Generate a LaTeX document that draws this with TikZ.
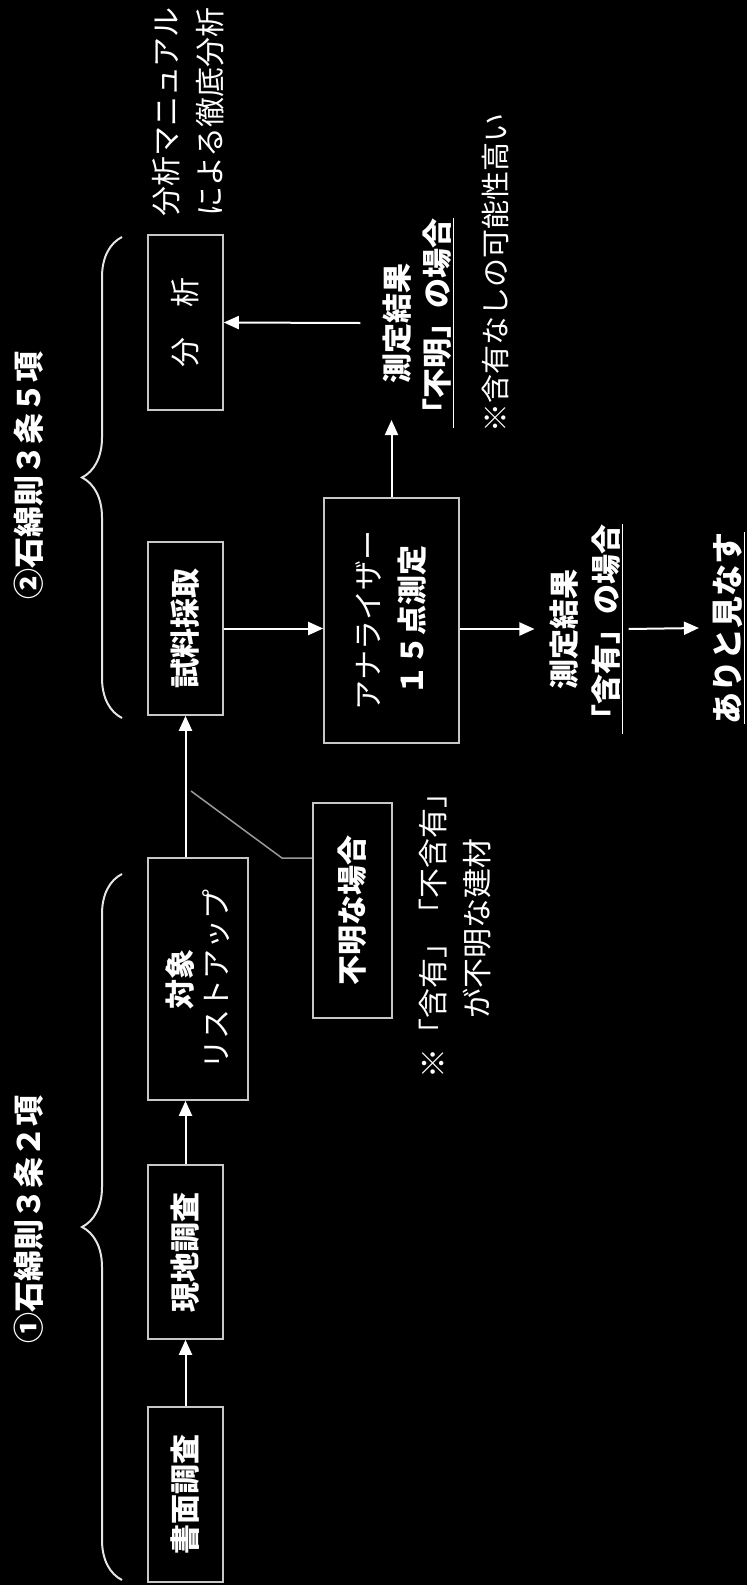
\documentclass[tikz,border=0pt]{standalone}
\usepackage{fontspec}
\setmainfont{Noto Sans CJK JP}
\usetikzlibrary{positioning,arrows.meta,decorations.pathreplacing}
\tikzstyle{pbox}=[rectangle, draw=white!78!black, line width=1.6pt, rotate=90, inner sep=0pt, align=center, text=white, font=\fontsize{30}{44}\selectfont]
\tikzstyle{ptext}=[rotate=90, inner sep=0pt, align=center, text=white, font=\fontsize{30}{42}\selectfont]
\tikzstyle{parrow}=[-{Triangle[length=15pt,width=13pt]}, white, line width=2pt]
\tikzstyle{pbrace}=[decorate, decoration={brace, amplitude=40pt}, white!90!black, line width=2pt]
\tikzstyle{pline}=[-, white!60!black, line width=1.5pt]

\begin{document}
\begin{tikzpicture}[x=1pt, y=-1pt]
\fill[black] (0,0) rectangle (747,1585);
\useasboundingbox (0,0) rectangle (747,1585);

% headers and braces
\node (HEAD1) [ptext, font=\fontsize{31}{36}\selectfont\bfseries] at (29,1219) {①石綿則３条２項};
\node (HEAD2) [ptext, font=\fontsize{31}{36}\selectfont\bfseries] at (29,475) {②石綿則３条５項};
\draw[pbrace] (122,1580) -- (122,874);
\draw[pbrace] (122,718) -- (122,237);

% boxes
\node (SHOMEN) [pbox, minimum width=175pt, minimum height=75pt] at (185.5,1494.5) {\bfseries 書面調査};
\node (GENCHI) [pbox, minimum width=174pt, minimum height=75pt] at (185.5,1252) {\bfseries 現地調査};
\node (TAISHO) [pbox, minimum width=242pt, minimum height=100pt, font=\fontsize{30}{36}\selectfont] at (198,979) {{\bfseries 対象}\\リストアップ};
\node (SHIRYO) [pbox, minimum width=173pt, minimum height=75pt] at (185.5,628.5) {\bfseries 試料採取};
\node (BUNSEKI) [pbox, minimum width=175pt, minimum height=75pt] at (185.5,322.5) {分　析};
\node (ANA) [pbox, minimum width=245pt, minimum height=135pt] at (391.5,620.5) {アナライザー\\{\bfseries １５点測定}};
\node (FUMEI) [pbox, minimum width=215pt, minimum height=79pt] at (352.5,910.5) {\bfseries 不明な場合};

% results and notes
\node (RESFUMEI) [ptext, font=\fontsize{30}{40}\selectfont\bfseries] at (418,323) {測定結果\\\underline{「不明」の場合}};
\node (RESGANYU) [ptext, font=\fontsize{30}{42}\selectfont\bfseries] at (586,629) {測定結果\\\underline{「含有」の場合}};
\node (MINASU) [ptext, font=\fontsize{32}{40}\selectfont\bfseries] at (729,628) {\underline{ありと見なす}};
\node (NOTEFUMEI) [ptext, font=\fontsize{29}{36}\selectfont] at (495,273) {※含有なしの可能性高い};
\node (NOTEMANUAL) [ptext, align=left, font=\fontsize{30}{44}\selectfont] at (188,112) {分析マニュアル\\による徹底分析};
\node (NOTEKENZAI) [ptext, font=\fontsize{30}{44}\selectfont] at (455,928) {※「含有」「不含有」\\が不明な建材};

\coordinate (CALLTIP) at (191,791);
\coordinate (FUMEITIP) at (391.5,420);

% connectors
\draw[parrow] (SHOMEN.east) -- (GENCHI.west);
\draw[parrow] (GENCHI.east) -- (GENCHI.east |- TAISHO.west);
\draw[parrow] (SHIRYO.west |- TAISHO.east) -- (SHIRYO.west);
\draw[pline] (FUMEI.north east) ++(0,56) -- ++(-30,0) -- (CALLTIP);
\draw[parrow] (SHIRYO.south) -- (SHIRYO.south -| ANA.north);
\draw[parrow] (ANA.south |- RESGANYU.north) -- ([xshift=-15pt]RESGANYU.north);
\draw[parrow] ([xshift=6pt]RESGANYU.south) -- ([xshift=-14pt]MINASU.north);
\draw[parrow] (ANA.east) -- (FUMEITIP);
\draw[parrow] ([xshift=-22pt]RESFUMEI.north) -- (BUNSEKI.south);
\end{tikzpicture}
\end{document}
